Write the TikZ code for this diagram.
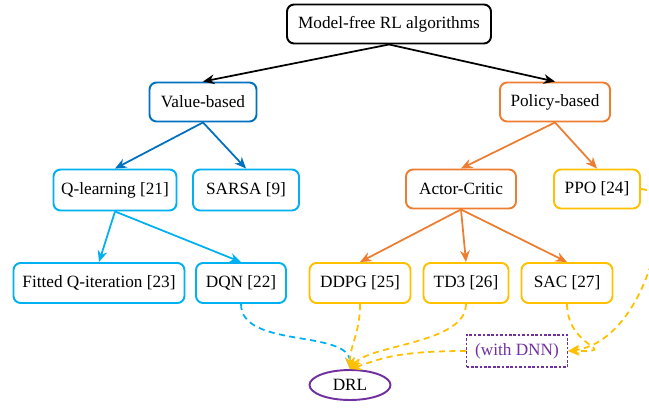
\documentclass[tikz,border=0pt]{standalone}
\usepackage{fontspec}
\setmainfont{Liberation Serif}
\usetikzlibrary{arrows.meta}
\usetikzlibrary{shapes.geometric}
\definecolor{vblue}{RGB}{0, 112, 192}
\definecolor{lblue}{RGB}{0, 176, 240}
\definecolor{porange}{RGB}{237, 125, 49}
\definecolor{pgold}{RGB}{255, 192, 0}
\definecolor{dpurple}{RGB}{112, 48, 160}

\begin{document}
\begin{tikzpicture}[x=0.02cm, y=-0.02cm,
  font=\fontsize{9.8}{11.6}\selectfont,
  algo/.style={draw, rounded corners=4pt, line width=1.1pt, minimum height=0.78cm, align=center},
  link/.style={-{Stealth[length=6.5pt,width=5.5pt]}, line width=1pt},
  dnnlink/.style={-{Stealth[length=6.5pt,width=5.5pt]}, line width=1pt, dashed, dash pattern=on 3.5pt off 2.5pt}]

 \useasboundingbox (0,0) rectangle (649,409);

 % tree of algorithms
 \node[algo, minimum width=4.08cm] (MF) at (389,24) {Model-free RL algorithms};
 \node[algo, draw=vblue, minimum width=2.14cm] (VB) at (203,102) {Value-based};
 \node[algo, draw=porange, minimum width=2.2cm] (PB) at (555,102) {Policy-based};
 \node[algo, draw=lblue, minimum width=2.46cm, minimum height=0.82cm] (QL) at (115,190) {Q-learning [21]};
 \node[algo, draw=lblue, minimum width=2.12cm, minimum height=0.82cm] (SARSA) at (246,190) {SARSA [9]};
 \node[algo, draw=porange, minimum width=2.2cm] (AC) at (461,189) {Actor-Critic};
 \node[algo, draw=pgold, minimum width=1.72cm] (PPO) at (597,189) {PPO [24]};
 \node[algo, draw=lblue, minimum width=3.42cm, minimum height=0.8cm] (FQI) at (99,283) {Fitted Q-iteration [23]};
 \node[algo, draw=lblue, minimum width=1.8cm, minimum height=0.8cm] (DQN) at (241,283) {DQN [22]};
 \node[algo, draw=pgold, minimum width=2.02cm, minimum height=0.8cm] (DDPG) at (360,283) {DDPG [25]};
 \node[algo, draw=pgold, minimum width=1.7cm, minimum height=0.8cm] (TD3) at (466,283) {TD3 [26]};
 \node[algo, draw=pgold, minimum width=1.82cm, minimum height=0.8cm] (SAC) at (567,283) {SAC [27]};

 \node[ellipse, draw=dpurple, line width=1.1pt, minimum width=1.62cm, minimum height=0.6cm, inner sep=0pt] (DRL) at (350,385) {DRL};
 \node[draw=dpurple, dashed, dash pattern=on 1.5pt off 1pt, line width=0.6pt, text=dpurple, minimum width=2.02cm, minimum height=0.64cm] (DNN) at (517,351) {(with DNN)};

 \draw[link] (MF.south) -- (VB.north);
 \draw[link] (MF.south) -- (PB.north);
 \draw[link, color=vblue] (VB.south) -- (QL.north);
 \draw[link, color=vblue] (VB.south) -- (SARSA.north);
 \draw[link, color=lblue] (QL.south) -- (FQI.north);
 \draw[link, color=lblue] (QL.south) -- (DQN.north);
 \draw[link, color=porange] (PB.south) -- (AC.north);
 \draw[link, color=porange] (PB.south) -- (PPO.north);
 \draw[link, color=porange] (AC.south) -- (DDPG.north);
 \draw[link, color=porange] (AC.south) -- (TD3.north);
 \draw[link, color=porange] (AC.south) -- (SAC.north);

 % dashed links into DRL
 \draw[dnnlink, color=lblue] (DQN.south) .. controls +(0,45) and +(0,-40) .. (DRL.north);
 \draw[dnnlink, color=pgold] (DDPG.south) .. controls +(0,30) and +(0,-25) .. (DRL.north);
 \draw[dnnlink, color=pgold] (TD3.south) .. controls +(0,40) and +(20,-25) .. (DRL.north);
 \draw[dnnlink, color=pgold] (DNN.west) .. controls +(-70,0) and +(30,-10) .. (DRL.north);
 \draw[dnnlink, color=pgold] (SAC.south) .. controls +(0,45) and +(55,0) .. (DNN.east);
 \draw[dnnlink, color=pgold] (PPO.east) .. controls +(40,0) and +(80,-10) .. (DNN.east);

\end{tikzpicture}
\end{document}
